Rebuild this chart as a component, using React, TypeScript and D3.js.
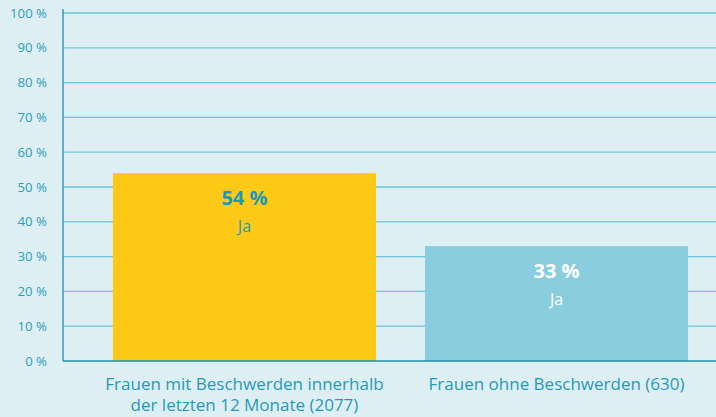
import React from "react";
import * as d3 from "d3";

const categories = ["Frauen mit Beschwerden innerhalb|der letzten 12 Monate (2077)", "Frauen ohne Beschwerden (630)"];
const values = [54, 33];
const valueLabels = ["54 %", "33 %"];
const subLabels = ["Ja", "Ja"];
const ticks = [0, 10, 20, 30, 40, 50, 60, 70, 80, 90, 100];

const W = 716, H = 417;
const left = 63, top = 13, bottom = 361;
const barColors = ["#fec917", "#89cddf"];
const textColors = ["#1a9ab8", "#ffffff"];
const font = "'Open Sans', sans-serif";

export default function App() {
  const y = d3.scaleLinear().domain([0, 100]).range([bottom, top]);
  const x = d3.scaleBand<number>().domain(d3.range(categories.length)).range([left, 738]).paddingInner(0.157).paddingOuter(0.16);
  return (
    <svg width={W} height={H} style={{ position: "absolute", left: 0, top: 0 }}>
      <rect x={0} y={0} width={W} height={H} fill="#deeff4" />
      {ticks.map((t) => (
        <g key={t}>
          {t > 0 && <line x1={left} x2={W} y1={y(t)} y2={y(t)} stroke="#6cc4d8" strokeWidth={1.3} />}
          <text x={47} y={y(t)} dy="0.35em" textAnchor="end" fontFamily={font} fontSize={13.2} fill="#2aa0bb">{t} %</text>
        </g>
      ))}
      {values.map((v, i) => {
        const bx = x(i)!;
        const bw = x.bandwidth();
        const cx = bx + bw / 2;
        return (
          <g key={i}>
            <rect x={bx} y={y(v)} width={bw} height={bottom - y(v)} fill={barColors[i]} />
            <text x={cx} y={y(v) + 32} textAnchor="middle" fontFamily={font} fontWeight={700} fontSize={20} fill={textColors[i]}>{valueLabels[i]}</text>
            <text x={cx} y={y(v) + 59} textAnchor="middle" fontFamily={font} fontSize={16} fill={textColors[i]}>{subLabels[i]}</text>
            {categories[i].split("|").map((line, j) => (
              <text key={j} x={cx} y={390 + j * 21} textAnchor="middle" fontFamily={font} fontSize={17} fill="#1e9ab8">{line}</text>
            ))}
          </g>
        );
      })}
      <line x1={left} x2={W} y1={bottom} y2={bottom} stroke="#1e8fa8" strokeWidth={1.3} />
      <line x1={left} x2={left} y1={9} y2={bottom} stroke="#1e8fa8" strokeWidth={1.3} />
    </svg>
  );
}
